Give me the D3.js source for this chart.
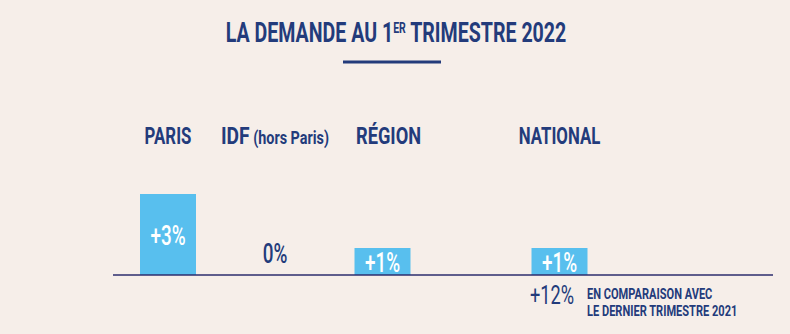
<!DOCTYPE html>
<html><head><meta charset="utf-8">
<script src="https://cdn.jsdelivr.net/npm/d3@7"></script>
<style>
html,body{margin:0;padding:0;background:#f6eee9;}
svg{display:block;}
text{font-family:Roboto,"Noto Sans",sans-serif;}
</style></head>
<body>
<script>
// ---- data ----
const title = "LA DEMANDE AU 1";
const titleSup = "ER";
const titleEnd = " TRIMESTRE 2022";
const categories = ["PARIS", "IDF", "RÉGION", "NATIONAL"];
const subLabels = ["", "(hors Paris)", "", ""];
const values = [3, 0, 1, 1];
const valueLabels = ["+3%", "0%", "+1%", "+1%"];
const yearChange = "+12%";
const yearChangeNote = ["EN COMPARAISON AVEC", "LE DERNIER TRIMESTRE 2021"];

// ---- layout ----
const W = 790, H = 334;
const navy = "#233b7b", barColor = "#58bfee", axisColor = "#2d2c6c";
const cond = 0.7; // horizontal condensation to imitate condensed typeface

const svg = d3.select("body").append("svg").attr("width", W).attr("height", H);
svg.append("rect").attr("width", W).attr("height", H).attr("fill", "#f6eee9");

const x = d3.scaleOrdinal(categories, [168, 275, 382.5, 559.5]);
const y = d3.scaleLinear([0, 3], [275, 194]);
const barW = 56;

function ctext(g, tx, ty, anchor, c) {
  return g.append("text").attr("transform", `translate(${tx},${ty}) scale(${c || cond},1)`).attr("text-anchor", anchor);
}

// title
const t = ctext(svg, 396, 42, "middle").attr("font-size", 28).attr("font-weight", 700).attr("fill", navy);
t.append("tspan").text(title);
t.append("tspan").text(titleSup).attr("font-size", 15).attr("dy", -9);
t.append("tspan").text(titleEnd).attr("dy", 9);
svg.append("line").attr("x1", 343).attr("x2", 441).attr("y1", 62).attr("y2", 62)
  .attr("stroke", navy).attr("stroke-width", 3);

// category labels
categories.forEach((c, i) => {
  const off = c === "RÉGION" ? 6 : 0;
  const lt = ctext(svg, x(c) + off, 144, "middle", subLabels[i] ? 0.8 : (c === "RÉGION" ? 0.76 : cond))
    .attr("font-weight", 700).attr("fill", navy);
  lt.append("tspan").text(c).attr("font-size", 24);
  if (subLabels[i]) lt.append("tspan").text(" " + subLabels[i]).attr("font-size", 18);
});

// bars
svg.selectAll("rect.bar").data(values).join("rect").attr("class", "bar")
  .attr("x", (d, i) => x(categories[i]) - barW / 2)
  .attr("width", barW)
  .attr("y", d => y(d))
  .attr("height", d => y(0) - y(d))
  .attr("fill", barColor);

// baseline
svg.append("line").attr("x1", 113).attr("x2", 773).attr("y1", y(0)).attr("y2", y(0))
  .attr("stroke", axisColor).attr("stroke-width", 1.5);

// value labels
values.forEach((v, i) => {
  const cx = x(categories[i]);
  const cy = v > 0 ? (y(v) + y(0)) / 2 + 10 : y(0) - 12;
  ctext(svg, cx, cy, "middle").attr("font-size", 27).attr("font-weight", 500)
    .attr("fill", v > 0 ? "#ffffff" : navy).text(valueLabels[i]);
});

// footnote
ctext(svg, 530, 304, "start").attr("font-size", 26).attr("font-weight", 400).attr("fill", navy).text(yearChange);
yearChangeNote.forEach((s, i) => {
  ctext(svg, 587, 299 + i * 17, "start", 0.79).attr("font-size", 14).attr("font-weight", 700).attr("fill", navy).text(s);
});
</script>
</body></html>
